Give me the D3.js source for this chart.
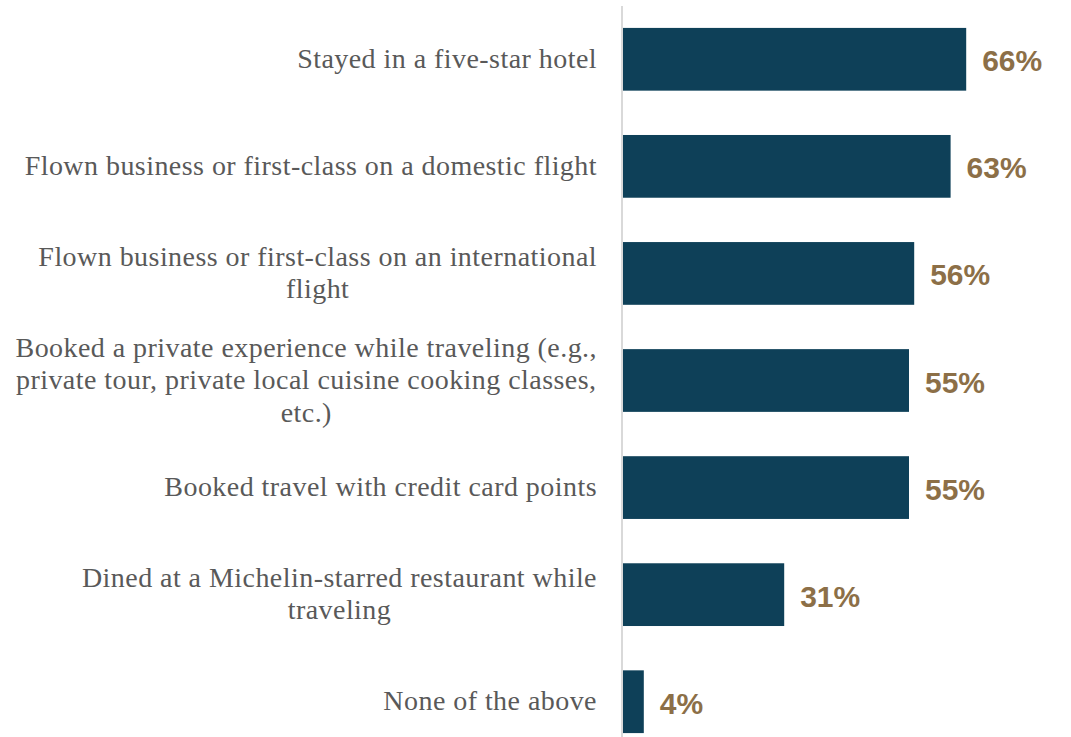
<!DOCTYPE html>
<html>
<head>
<meta charset="utf-8">
<script src="https://cdn.jsdelivr.net/npm/d3@7"></script>
<style>
  html, body { margin: 0; padding: 0; background: #ffffff; }
  svg { display: block; }
</style>
</head>
<body>
<script>
// Share of respondents who have done each luxury travel activity
const categories = [
  "Stayed in a five-star hotel",
  "Flown business or first-class on a domestic flight",
  "Flown business or first-class on an international\nflight",
  "Booked a private experience while traveling (e.g.,\nprivate tour, private local cuisine cooking classes,\netc.)",
  "Booked travel with credit card points",
  "Dined at a Michelin-starred restaurant while\ntraveling",
  "None of the above"
];
const values = [66, 63, 56, 55, 55, 31, 4];

const width = 1071, height = 737;
const svg = d3.select("body").append("svg")
  .attr("width", width).attr("height", height);

const x = d3.scaleLinear().domain([0, 100]).range([623, 1143]);
const y = d3.scaleBand().domain(categories)
  .range([5.75, 755.25]).paddingInner(0.414).paddingOuter(0.207);

// bars
svg.append("g").selectAll("rect")
  .data(categories)
  .join("rect")
  .attr("x", x(0))
  .attr("y", d => y(d))
  .attr("width", (d, i) => x(values[i]) - x(0))
  .attr("height", y.bandwidth())
  .attr("fill", "#0e4058");

// vertical baseline
svg.append("line")
  .attr("x1", 622).attr("x2", 622)
  .attr("y1", 6).attr("y2", height)
  .attr("stroke", "#d9d9d9").attr("stroke-width", 2);

// value labels
svg.append("g").selectAll("text")
  .data(categories)
  .join("text")
  .attr("x", (d, i) => x(values[i]) + 16)
  .attr("y", d => y(d) + y.bandwidth() / 2)
  .attr("dy", "0.4em")
  .attr("font-family", "Liberation Sans, Arial, sans-serif")
  .attr("font-weight", "bold")
  .attr("font-size", 30)
  .attr("fill", "#8c6f47")
  .text((d, i) => values[i] + "%");

// category labels: a centred text block whose right edge sits next to the baseline
const lineH = 32.5;
const labelRight = 597;
const labels = svg.append("g").selectAll("text")
  .data(categories)
  .join("text")
  .attr("text-anchor", "middle")
  .attr("font-family", "Liberation Serif, Times New Roman, serif")
  .attr("font-size", 28)
  .attr("letter-spacing", 0.45)
  .attr("fill", "#595959")
  .attr("y", d => y(d) + y.bandwidth() / 2);

labels.each(function(d) {
  const lines = d.split("\n");
  const t = d3.select(this);
  const spans = lines.map((ln, k) =>
    t.append("tspan")
      .attr("dy", k === 0 ? ((-(lines.length - 1) / 2) * lineH + 8.5) : lineH)
      .text(ln));
  const maxW = d3.max(spans, s => s.node().getComputedTextLength());
  spans.forEach(s => s.attr("x", labelRight - maxW / 2));
});
</script>
</body>
</html>
